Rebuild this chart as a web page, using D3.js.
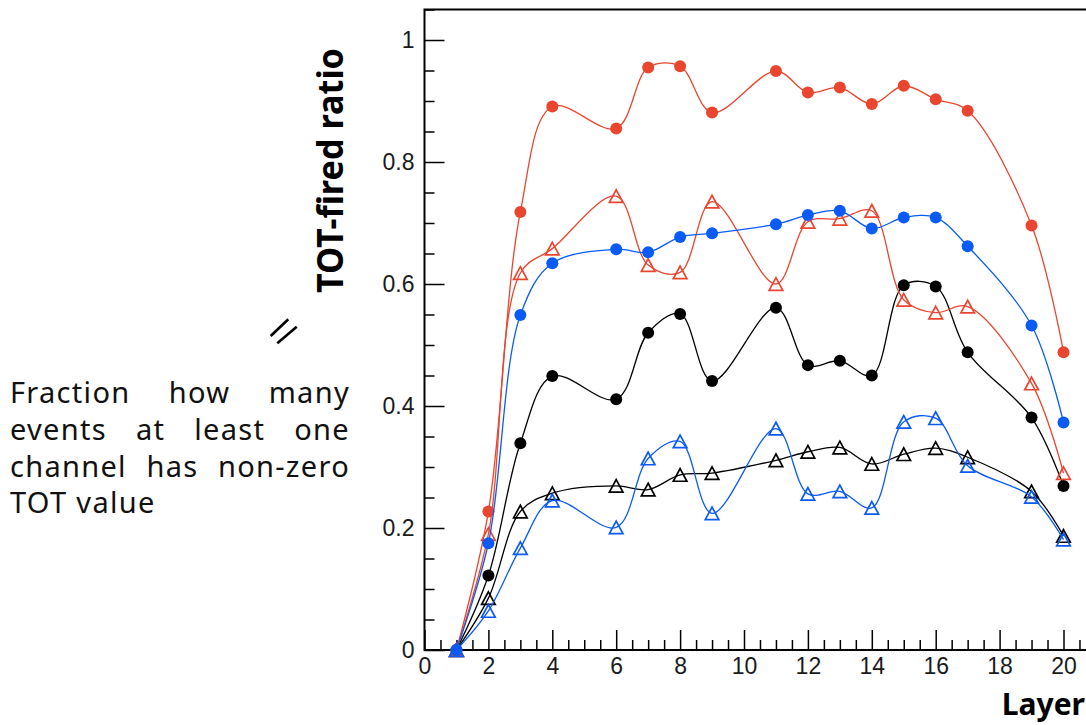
<!DOCTYPE html>
<html><head><meta charset="utf-8">
<script src="https://cdn.jsdelivr.net/npm/d3@7"></script>
<style>body{margin:0;background:#fff} svg{display:block}</style>
</head><body>
<svg id="c" width="1086" height="725"></svg>
<script>
// ---- data ----
const layers = [1,2,3,4,6,7,8,9,11,12,13,14,15,16,17,19,20];
const redFilled  = [0,0.227,0.718,0.891,0.855,0.955,0.957,0.881,0.949,0.914,0.922,0.895,0.925,0.903,0.884,0.696,0.488];
const redOpen    = [0,0.190,0.618,0.658,0.744,0.631,0.619,0.735,0.600,0.702,0.707,0.720,0.574,0.553,0.563,0.437,0.290];
const blueFilled = [0,0.175,0.549,0.634,0.657,0.652,0.677,0.683,0.698,0.713,0.720,0.691,0.709,0.709,0.662,0.532,0.373];
const blueOpen   = [0,0.064,0.167,0.245,0.201,0.314,0.342,0.224,0.363,0.256,0.260,0.233,0.374,0.380,0.302,0.251,0.181];
const blackFilled= [0,0.122,0.339,0.449,0.411,0.520,0.551,0.441,0.561,0.467,0.474,0.450,0.598,0.596,0.488,0.381,0.269];
const blackOpen  = [0,0.085,0.227,0.257,0.269,0.263,0.287,0.290,0.311,0.325,0.332,0.305,0.321,0.331,0.316,0.260,0.187];
const xTickValues = [0,2,4,6,8,10,12,14,16,18,20];
const xTickLabels = ["0","2","4","6","8","10","12","14","16","18","20"];
const yTickValues = [0,0.2,0.4,0.6,0.8,1];
const yTickLabels = ["0","0.2","0.4","0.6","0.8","1"];
const yTitle = "TOT-fired ratio";
const xTitle = "Layer";
const noteLines = [["Fraction","how","many"],["events","at","least","one"],["channel","has","non-zero"],["TOT","value"]];

const RED = "#e9452f", BLUE = "#0a5af5", BLACK = "#000";
const series = [
  {values: blackFilled, color: BLACK, marker: "circle"},
  {values: blackOpen,   color: BLACK, marker: "triangle"},
  {values: redFilled,   color: RED,   marker: "circle"},
  {values: redOpen,     color: RED,   marker: "triangle"},
  {values: blueFilled,  color: BLUE,  marker: "circle"},
  {values: blueOpen,    color: BLUE,  marker: "triangle"}
];

const svg = d3.select("#c");
const x = d3.scaleLinear().domain([0,21]).range([424.5, 424.5 + 21*31.95]);
const y = d3.scaleLinear().domain([0,1.05]).range([650, 9.5]);

// frame
svg.append("rect").attr("x", x(0)).attr("y", y(1.05))
  .attr("width", x(21)-x(0)).attr("height", y(0)-y(1.05))
  .attr("fill","none").attr("stroke","#000").attr("stroke-width",2);

// axes
function styleAxis(g){
  g.select(".domain").remove();
  g.selectAll(".tick line").attr("stroke","#000").attr("stroke-width",1.5);
  g.selectAll(".tick text").attr("fill","#1a1a1a")
    .style("font-family","'Liberation Sans', Arial, sans-serif").style("font-size","23px");
}
const yMinor = d3.range(0, 1.0501, 0.05).filter(v => !yTickValues.some(t => Math.abs(t-v) < 1e-6));
svg.append("g").attr("transform",`translate(${x(0)},0)`)
  .call(d3.axisLeft(y).tickValues(yMinor).tickSize(-10).tickFormat(""))
  .call(styleAxis);
svg.append("g").attr("transform",`translate(${x(0)},0)`)
  .call(d3.axisLeft(y).tickValues(yTickValues).tickSize(-20).tickPadding(10)
        .tickFormat((d,i) => yTickLabels[i]))
  .call(styleAxis);

const xMinor = d3.range(0, 21.01, 0.5).filter(v => !xTickValues.includes(v));
svg.append("g").attr("transform",`translate(0,${y(0)})`)
  .call(d3.axisBottom(x).tickValues(xMinor).tickSize(-10).tickFormat(""))
  .call(styleAxis);
svg.append("g").attr("transform",`translate(0,${y(0)})`)
  .call(d3.axisBottom(x).tickValues(xTickValues).tickSize(-20).tickPadding(8)
        .tickFormat((d,i) => xTickLabels[i]))
  .call(styleAxis);

// series
const line = d3.line().x(d => x(d[0])).y(d => y(d[1])).curve(d3.curveCatmullRom.alpha(0.5));
const tri = "M0,-6.3L6.8,6.3L-6.8,6.3Z";
series.forEach(s => {
  const pts = layers.map((l,i) => [l, s.values[i]]);
  svg.append("path").datum(pts).attr("d", line)
    .attr("fill","none").attr("stroke", s.color).attr("stroke-width",1.3);
  const g = svg.append("g");
  if (s.marker === "circle") {
    g.selectAll("circle").data(pts).join("circle")
      .attr("cx", d => x(d[0])).attr("cy", d => y(d[1])).attr("r", 6)
      .attr("fill", s.color);
  } else {
    g.selectAll("path").data(pts).join("path")
      .attr("d", tri).attr("transform", d => `translate(${x(d[0])},${y(d[1])})`)
      .attr("fill","none").attr("stroke", s.color).attr("stroke-width",1.7);
  }
});

// titles
svg.append("text").attr("transform","translate(343,170.5) rotate(-90)")
  .attr("text-anchor","middle").attr("textLength",245).attr("lengthAdjust","spacingAndGlyphs")
  .style("font-family","'Noto Sans', sans-serif").style("font-weight","bold").style("font-size","35px")
  .text(yTitle);
svg.append("text").attr("x",1085).attr("y",715).attr("text-anchor","end")
  .style("font-family","'Noto Sans', sans-serif").style("font-weight","bold").style("font-size","30px")
  .text(xTitle);

// "//" mark
svg.append("line").attr("x1",270.7).attr("y1",336).attr("x2",288.3).attr("y2",319.3)
  .attr("stroke","#000").attr("stroke-width",2.6);
svg.append("line").attr("x1",277.3).attr("y1",343.3).attr("x2",296.7).attr("y2",326.7)
  .attr("stroke","#000").attr("stroke-width",2.6);

// justified note
const left = 10, right = 350;
noteLines.forEach((words, li) => {
  const by = 403 + li*36.8;
  const texts = words.map(w => svg.append("text").attr("y", by)
      .style("font-family","'Noto Sans', sans-serif").style("font-size","29px")
      .style("letter-spacing","1.3px").attr("fill","#111").text(w));
  const widths = texts.map(t => t.node().getComputedTextLength());
  const total = d3.sum(widths);
  const last = li === noteLines.length - 1;
  const gap = last ? 9 : (right - left - total) / (words.length - 1);
  let cx = left;
  texts.forEach((t,i) => { t.attr("x", cx); cx += widths[i] + gap; });
});
</script>
</body></html>
